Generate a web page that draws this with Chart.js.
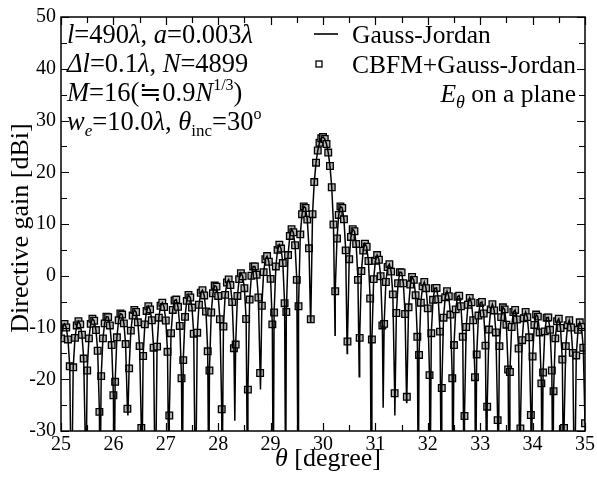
<!DOCTYPE html>
<html><head><meta charset="utf-8">
<script src="https://cdn.jsdelivr.net/npm/chart.js@4"></script>
<style>html,body{margin:0;padding:0;background:#fff}canvas{display:block}</style>
</head><body>
<canvas id="c" width="597" height="477"></canvas>
<script>
// ---- data ----
const thetaSq = [
25,25.033,25.067,25.1,25.133,25.167,25.2,25.233,25.267,25.3,25.333,25.367,25.4,25.433,25.467,25.5,25.533,25.567,25.6,25.633,25.667,25.7,25.733,25.767,25.8,25.833,25.867,25.9,25.933,25.967,
26,26.033,26.067,26.1,26.133,26.167,26.2,26.233,26.267,26.3,26.333,26.367,26.4,26.433,26.467,26.5,26.533,26.567,26.6,26.633,26.667,26.7,26.733,26.767,26.8,26.833,26.867,26.9,26.933,26.967,
27,27.033,27.067,27.1,27.133,27.167,27.2,27.233,27.267,27.3,27.333,27.367,27.4,27.433,27.467,27.5,27.533,27.567,27.6,27.633,27.667,27.7,27.733,27.767,27.8,27.833,27.867,27.9,27.933,27.967,
28,28.033,28.067,28.1,28.133,28.167,28.2,28.233,28.267,28.3,28.333,28.367,28.4,28.433,28.467,28.5,28.533,28.567,28.6,28.633,28.667,28.7,28.733,28.767,28.8,28.833,28.867,28.9,28.933,28.967,
29,29.033,29.067,29.1,29.133,29.167,29.2,29.233,29.267,29.3,29.333,29.367,29.4,29.433,29.467,29.5,29.533,29.567,29.6,29.633,29.667,29.7,29.733,29.767,29.8,29.833,29.867,29.9,29.933,29.967,
30,30.033,30.067,30.1,30.133,30.167,30.2,30.233,30.267,30.3,30.333,30.367,30.4,30.433,30.467,30.5,30.533,30.567,30.6,30.633,30.667,30.7,30.733,30.767,30.8,30.833,30.867,30.9,30.933,30.967,
31,31.033,31.067,31.1,31.133,31.167,31.2,31.233,31.267,31.3,31.333,31.367,31.4,31.433,31.467,31.5,31.533,31.567,31.6,31.633,31.667,31.7,31.733,31.767,31.8,31.833,31.867,31.9,31.933,31.967,
32,32.033,32.067,32.1,32.133,32.167,32.2,32.233,32.267,32.3,32.333,32.367,32.4,32.433,32.467,32.5,32.533,32.567,32.6,32.633,32.667,32.7,32.733,32.767,32.8,32.833,32.867,32.9,32.933,32.967,
33,33.033,33.067,33.1,33.133,33.167,33.2,33.233,33.267,33.3,33.333,33.367,33.4,33.433,33.467,33.5,33.533,33.567,33.6,33.633,33.667,33.7,33.733,33.767,33.8,33.833,33.867,33.9,33.933,33.967,
34,34.033,34.067,34.1,34.133,34.167,34.2,34.233,34.267,34.3,34.333,34.367,34.4,34.433,34.467,34.5,34.533,34.567,34.6,34.633,34.667,34.7,34.733,34.767,34.8,34.833,34.867,34.9,34.933,34.967,
35];
const gainSq = [
-12.1,-9.9,-9.3,-10.0,-12.3,-17.5,-47,-17.7,-12.0,-9.6,-8.8,-9.4,-11.4,-16.0,-33.8,-18.3,-12.1,-9.3,-8.3,-8.7,-10.5,-14.5,-26.3,-19.4,-12.1,-9.2,-7.9,-8.0,-9.6,-13.4,
-23.1,-20.5,-11.9,-8.6,-7.3,-7.5,-9.2,-13.2,-25.7,-17.9,-10.6,-7.7,-6.6,-7.0,-9.0,-13.6,-29.4,-15.5,-9.4,-6.8,-5.9,-6.5,-8.6,-13.9,-45,-13.7,-8.1,-5.8,-5.2,-6.05,
-8.65,-14.7,-27.0,-11.1,-6.6,-4.8,-4.6,-6.0,-9.7,-19.8,-16.3,-7.95,-4.85,-3.7,-4.2,-6.15,-11.2,-45,-11.0,-5.6,-3.3,-2.8,-3.8,-6.9,-14.6,-18.3,-7.1,-3.4,-1.9,-2.1,
-3.9,-8.4,-25.8,-9.8,-3.7,-1.3,-0.7,-1.8,-5.1,-14.0,-13.3,-3.9,-0.65,0.5,-0.1,-2.4,-8.35,-22.0,-4.6,0.0,1.8,1.8,0.2,-4.2,-18.8,-5.8,0.7,3.2,3.8,2.7,
-0.6,-9.4,-7.1,1.8,5.0,6.0,5.25,2.45,-5.3,-7.0,4.0,7.7,9.0,8.4,5.9,-0.8,-5.9,8.0,11.9,13.4,13.1,10.85,5.3,-8.4,11.9,18.1,21.85,24.2,25.7,26.56,
26.8,26.44,25.46,23.8,21.2,17.1,9.9,-3.0,7.2,11.75,13.4,13.1,10.9,4.9,-12.7,3.2,7.5,9.0,8.6,6.15,-0.8,-12.0,0.9,4.85,6.2,5.6,2.85,-4.4,-12.3,-0.65,
2.9,4.0,3.1,-0.1,-9.6,-9.3,-1.2,1.7,2.25,0.8,-3.6,-22.7,-7.2,-1.45,0.7,0.65,-1.45,-7.4,-23.4,-6.1,-1.7,-0.25,-0.8,-3.75,-11.8,-15.3,-5.2,-2.05,-1.2,-2.4,
-6.3,-19.2,-11.1,-4.65,-2.4,-2.35,-4.55,-10.8,-21.7,-8.1,-4.15,-3.0,-3.95,-7.5,-19.8,-13.4,-6.5,-4.05,-3.85,-5.9,-11.8,-27.1,-9.9,-5.6,-4.3,-5.15,-8.6,-19.6,-15.2,-7.7,
-5.25,-5.05,-7.3,-13.5,-25.3,-10.4,-6.5,-5.5,-6.7,-10.95,-27.9,-13.6,-8.0,-6.1,-6.5,-9.45,-18.1,-18.6,-9.9,-7.0,-6.6,-8.45,-14.05,-29.5,-12.45,-8.2,-7.0,-8.0,-11.9,-26.9,
-15.6,-9.5,-7.5,-7.9,-10.95,-20.8,-18.7,-10.75,-8.1,-8.05,-10.45,-18.3,-22.3,-12.1,-8.8,-8.3,-10.1,-16.2,-29.4,-13.6,-9.55,-8.6,-10.0,-14.9,-45,-15.4,-10.45,-9.0,-9.9,-13.9,
-28.5];
// extra points of the Gauss-Jordan curve (its nulls)
const thetaNull = [25.201,25.472,25.744,26.015,26.277,26.539,26.801,27.061,27.314,27.568,27.821,28.072,28.317,28.562,28.807,29.05,29.288,29.525,29.763,
30.23,30.461,30.691,30.922,31.148,31.371,31.595,31.819,32.042,32.259,32.477,32.695,32.912,33.126,33.338,33.55,33.762,33.974,34.181,34.387,34.594];
const gainNull  = [-45,-45,-45,-45,-27,-45,-45,-45,-45,-45,-45,-45,-28,-45,-22,-45,-45,-45,-9,
-11.5,-15,-19.5,-45,-25.5,-27,-24.5,-45,-45,-45,-45,-45,-45,-45,-45,-45,-45,-45,-45,-45,-45];
const seriesNames = ['Gauss-Jordan','CBFM+Gauss-Jordan'];
const xTickLabels = [25,26,27,28,29,30,31,32,33,34,35];
const yTickLabels = [-30,-20,-10,0,10,20,30,40,50];
const xMinorTicks = [25.5,26.5,27.5,28.5,29.5,30.5,31.5,32.5,33.5,34.5];
const yMinorTicks = [-25,-15,-5,5,15,25,35,45];

// ---- build tables ----
const squares = thetaSq.map((t,i)=>({x:t,y:gainSq[i]}));
const curve = squares.concat(thetaNull.map((t,i)=>({x:t,y:gainNull[i]}))).sort((a,b)=>a.x-b.x);

const SERIF = '"Liberation Serif","Times New Roman",serif';
function fnt(s,base){return (s.i?'italic ':'')+(s.size||base||26)+'px '+SERIF;}
function rich(ctx,x,y,segs,align,base){
  let w=0; for(const s of segs){ctx.font=fnt(s,base); w+=ctx.measureText(s.t).width+(s.dx||0);}
  let cx = align==='right'? x-w : (align==='center'? x-w/2 : x);
  for(const s of segs){ctx.font=fnt(s,base); cx+=(s.dx||0); ctx.fillText(s.t,cx,y+(s.dy||0)); cx+=ctx.measureText(s.t).width;}
}

const decor = {
  id:'decor',
  afterDatasetsDraw(chart){
    const {ctx, chartArea:a, scales:{x,y}} = chart;
    ctx.save();
    ctx.strokeStyle='#000'; ctx.fillStyle='#000';
    ctx.lineWidth=1.5;
    ctx.strokeRect(a.left,a.top,a.right-a.left,a.bottom-a.top);
    ctx.lineWidth=1.2;
    ctx.beginPath();
    const tx=(v,L)=>{const p=Math.round(x.getPixelForValue(v))+0.5; ctx.moveTo(p,a.bottom);ctx.lineTo(p,a.bottom-L);ctx.moveTo(p,a.top);ctx.lineTo(p,a.top+L);};
    const ty=(v,L)=>{const p=Math.round(y.getPixelForValue(v))+0.5; ctx.moveTo(a.left,p);ctx.lineTo(a.left+L,p);ctx.moveTo(a.right,p);ctx.lineTo(a.right-L,p);};
    xTickLabels.forEach(v=>tx(v,8)); xMinorTicks.forEach(v=>tx(v,6));
    yTickLabels.forEach(v=>ty(v,8)); yMinorTicks.forEach(v=>ty(v,6));
    ctx.stroke();

    ctx.textBaseline='alphabetic';
    // parameter block
    const L0=67, B=26.5;
    rich(ctx,L0,43,[{t:'l',i:1},{t:'=490'},{t:'λ',i:1},{t:', '},{t:'a',i:1},{t:'=0.003'},{t:'λ',i:1}],'left',B);
    rich(ctx,L0,72,[{t:'Δl',i:1},{t:'=0.1'},{t:'λ',i:1},{t:', '},{t:'N',i:1},{t:'=4899'}],'left',B);
    rich(ctx,L0,101,[{t:'M',i:1},{t:'=16('},{t:'≒'},{t:'0.9'},{t:'N',i:1},{t:'1/3',size:16,dy:-11},{t:')'}],'left',B);
    rich(ctx,L0,130,[{t:'w',i:1},{t:'e',i:1,size:17,dy:6},{t:'=10.0'},{t:'λ',i:1},{t:', '},{t:'θ',i:1},{t:'inc',size:17,dy:6},{t:'=30'},{t:'o',size:16,dy:-11}],'left',B);

    // legend
    const LB=25.5;
    ctx.lineWidth=1.6;
    ctx.beginPath(); ctx.moveTo(314,34); ctx.lineTo(338,34); ctx.stroke();
    rich(ctx,352,43,[{t:seriesNames[0]}],'left',LB);
    ctx.lineWidth=1.3; ctx.fillStyle='#fff';
    ctx.fillRect(316,61,6,6); ctx.strokeRect(316,61,6,6);
    ctx.fillStyle='#000';
    rich(ctx,352,73,[{t:seriesNames[1]}],'left',LB);
    rich(ctx,576,102,[{t:'E',i:1},{t:'θ',i:1,size:18,dy:6},{t:' on a plane'}],'right',LB);

    // axis titles
    rich(ctx,328,466,[{t:'θ',i:1},{t:' [degree]'}],'center',26);
    ctx.save();
    ctx.translate(21,228);
    ctx.rotate(-Math.PI/2);
    ctx.textBaseline='middle';
    rich(ctx,0,0,[{t:'Directive gain [dBi]'}],'center',26);
    ctx.restore();
    ctx.restore();
  }
};

const tickFont = {family:SERIF,size:20};
new Chart(document.getElementById('c'),{
  type:'line',
  data:{datasets:[
    {label:seriesNames[0],data:curve,borderColor:'#000',borderWidth:1.5,pointRadius:0,tension:0,order:0,clip:0},
    {label:seriesNames[1],data:squares,showLine:false,pointStyle:'rect',pointRadius:4.7,pointBorderWidth:1.3,
     pointBorderColor:'#000',pointBackgroundColor:'#b8b8b8',borderColor:'#000',backgroundColor:'#b8b8b8',order:1,clip:0}
  ]},
  plugins:[decor],
  options:{
    responsive:false,animation:false,devicePixelRatio:1,
    layout:{padding:{top:15,right:7,left:0,bottom:0}},
    plugins:{legend:{display:false},tooltip:{enabled:false}},
    scales:{
      x:{type:'linear',min:25,max:35,
         afterBuildTicks:s=>{s.ticks=xTickLabels.map(v=>({value:v}));},
         afterFit:s=>{s.height=46;},
         grid:{display:false,drawTicks:false},border:{display:false},
         ticks:{font:tickFont,color:'#000',padding:2,maxRotation:0,autoSkip:false}},
      y:{type:'linear',min:-30,max:50,
         afterBuildTicks:s=>{s.ticks=yTickLabels.map(v=>({value:v}));},
         afterFit:s=>{s.width=61;},
         grid:{display:false,drawTicks:false},border:{display:false},
         ticks:{font:tickFont,color:'#000',padding:5,autoSkip:false}}
    }
  }
});
</script>
</body></html>
